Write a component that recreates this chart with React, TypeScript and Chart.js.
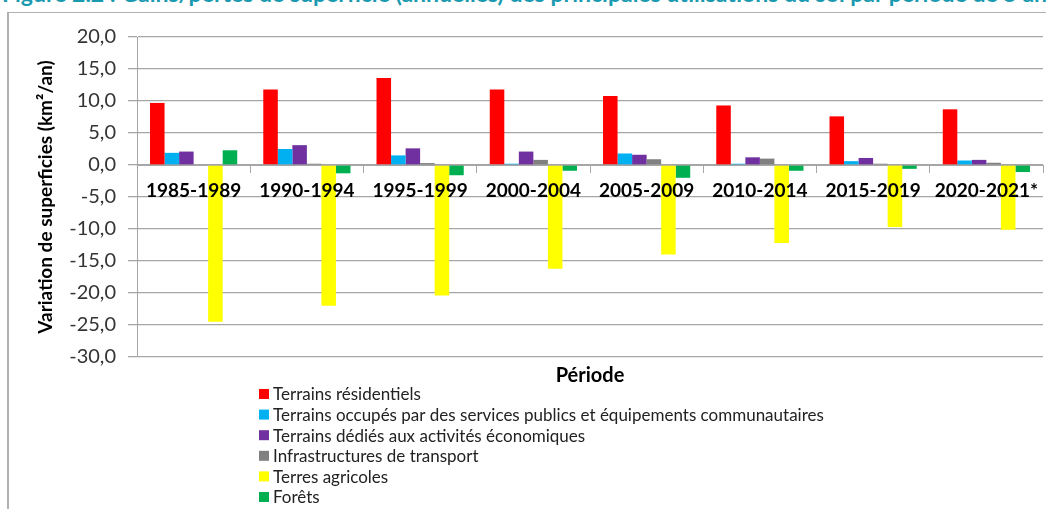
import React, { useEffect, useRef } from 'react';
import { Chart, registerables } from 'chart.js';

Chart.register(...registerables);

const periods = ['1985-1989', '1990-1994', '1995-1999', '2000-2004', '2005-2009', '2010-2014', '2015-2019', '2020-2021*'];
const residentiels = [9.7, 11.8, 13.6, 11.8, 10.8, 9.3, 7.6, 8.7];
const servicesPublics = [1.9, 2.5, 1.5, 0.2, 1.8, 0.2, 0.6, 0.7];
const activitesEconomiques = [2.1, 3.1, 2.6, 2.1, 1.6, 1.2, 1.1, 0.8];
const transport = [-0.1, 0.2, 0.3, 0.8, 0.9, 1.0, 0.2, 0.35];
const agricoles = [-24.5, -22.0, -20.4, -16.2, -14.0, -12.2, -9.7, -10.1];
const forets = [2.3, -1.3, -1.6, -0.9, -2.0, -0.9, -0.6, -1.1];

const seriesNames = [
  'Terrains résidentiels',
  'Terrains occupés par des services publics et équipements communautaires',
  'Terrains dédiés aux activités économiques',
  'Infrastructures de transport',
  'Terres agricoles',
  'Forêts',
];
const seriesValues = [residentiels, servicesPublics, activitesEconomiques, transport, agricoles, forets];
const seriesColors = ['#FF0000', '#00B0F0', '#7030A0', '#808080', '#FFFF00', '#00B050'];

const yTitle = 'Variation de superficies (km²/an)';
const xTitle = 'Période';
const figureTitle = 'Figure 2.2 : Gains/pertes de superficie (annuelles) des principales utilisations du sol par période de 5 ans';

const FONT = 'Lato, "Open Sans", sans-serif';
const GRID = '#a6a6a6';

const legendPlugin = {
  id: 'verticalLegend',
  afterDraw(chart: any) {
    const { ctx, chartArea } = chart;
    ctx.save();
    ctx.fillStyle = '#000';
    ctx.font = `bold 20px ${FONT}`;
    ctx.textAlign = 'center';
    ctx.textBaseline = 'middle';
    ctx.fillText(xTitle, (chartArea.left + chartArea.right) / 2, chartArea.bottom + 19);
    ctx.font = `17px ${FONT}`;
    ctx.textAlign = 'left';
    chart.data.datasets.forEach((ds: any, i: number) => {
      const y = chartArea.bottom + 37 + i * 20.6;
      ctx.fillStyle = ds.backgroundColor;
      ctx.fillRect(250, y - 5, 10, 10);
      ctx.fillStyle = '#222';
      ctx.fillText(ds.label, 264, y + 1);
    });
    ctx.restore();
  },
};

export default function App() {
  const ref = useRef<HTMLCanvasElement>(null);

  useEffect(() => {
    if (!ref.current) return;
    const chart = new Chart(ref.current, {
      type: 'bar',
      data: {
        labels: periods,
        datasets: seriesNames.map((name, i) => ({
          label: name,
          data: seriesValues[i],
          backgroundColor: seriesColors[i],
          borderWidth: 0,
          categoryPercentage: 0.77,
          barPercentage: 1.0,
        })),
      },
      options: {
        animation: false,
        responsive: false,
        maintainAspectRatio: false,
        layout: { padding: { top: 19, right: 3, bottom: 152, left: 0 } },
        plugins: {
          legend: { display: false },
          tooltip: { enabled: false },
          title: { display: false },
        },
        scales: {
          x: {
            position: { y: 0 } as any,
            offset: true,
            grid: { offset: true, drawOnChartArea: false, drawTicks: true, tickLength: 7, color: GRID },
            border: { color: GRID },
            ticks: {
              z: 1,
              font: { family: FONT, size: 19, weight: 'bold' },
              color: '#000',
              padding: 7,
              maxRotation: 0,
              autoSkip: false,
            },
            afterFit: (s: any) => {
              s.height = 0;
            },
          },
          y: {
            min: -30,
            max: 20,
            ticks: {
              stepSize: 5,
              font: { family: FONT, size: 20 },
              color: '#333',
              padding: 12,
              callback: (v: any) => Number(v).toFixed(1).replace('.', ','),
            },
            grid: { color: GRID, tickLength: 9, lineWidth: 1.3 },
            border: { color: GRID },
            title: {
              display: true,
              text: yTitle,
              font: { family: FONT, size: 19, weight: 'bold' },
              color: '#000',
              padding: { top: 25, bottom: 0 },
            },
            afterFit: (s: any) => {
              s.width = 128;
            },
          },
        },
      },
      plugins: [legendPlugin],
    });
    return () => chart.destroy();
  }, []);

  return (
    <>
      <div style={{ position: 'absolute', left: 0, top: 0, width: 1046, height: 9, overflow: 'hidden' }}>
        <div
          style={{
            position: 'absolute',
            left: 2,
            top: -20,
            whiteSpace: 'nowrap',
            font: `bold 23px ${FONT}`,
            lineHeight: '26px',
            color: '#1a9ab0',
          }}
        >
          {figureTitle}
        </div>
      </div>
      <div
        style={{
          position: 'absolute',
          left: 7,
          top: 12,
          width: 1037,
          height: 496,
          borderLeft: '2px solid #b0b0b0',
          borderTop: '1px solid #b0b0b0',
        }}
      >
        <canvas ref={ref} width={1037} height={496} style={{ display: 'block', width: 1037, height: 496 }} />
      </div>
    </>
  );
}
